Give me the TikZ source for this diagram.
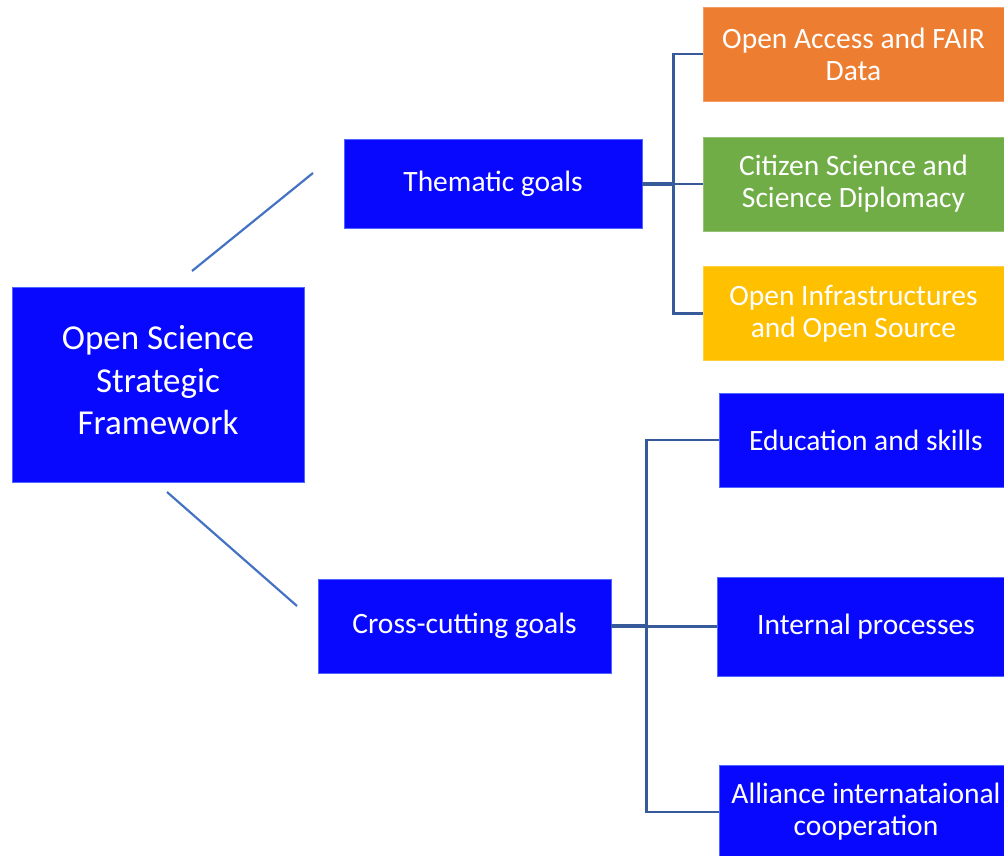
\documentclass[tikz,border=0pt]{standalone}
\usepackage{fontspec}
\setmainfont{Carlito}
\definecolor{goalblue}{RGB}{8,8,255}
\definecolor{edgeblue}{RGB}{80,100,255}
\definecolor{oaorange}{RGB}{237,125,49}
\definecolor{csgreen}{RGB}{112,173,71}
\definecolor{oiyellow}{RGB}{255,192,0}
\definecolor{linkblue}{RGB}{68,114,196}
\definecolor{treeblue}{RGB}{55,90,155}
\begin{document}
\begin{tikzpicture}[x=1pt,y=-1pt,
  goal/.style={draw=edgeblue,line width=0.6pt,fill=goalblue,text=white,align=center,inner sep=0pt,font=\fontsize{29.5}{32}\selectfont},
  link/.style={linkblue,line width=2.2pt},
  tree/.style={treeblue,line width=2.6pt},
  trunk/.style={treeblue,line width=3.5pt}]
\useasboundingbox (0,0) rectangle (1004,856);
% framework and the two goal groups
\node[goal,minimum width=292,minimum height=195,label={[text=white,align=center,inner sep=0pt,font=\fontsize{35}{42.5}\selectfont,yshift=4pt]center:Open Science\\Strategic\\Framework}] (osf) at (158,384.5) {};
\node[goal,minimum width=298,minimum height=89] (them) at (493,184) {Thematic goals};
\node[goal,minimum width=293,minimum height=94] (cross) at (464.5,626) {Cross-cutting goals};
% thematic goals
\node[goal,fill=oaorange,draw=oaorange!75!white,minimum width=301,minimum height=94] (oa) at (853.5,54) {Open Access and FAIR\\Data};
\node[goal,fill=csgreen,draw=csgreen!75!white,minimum width=301,minimum height=94] (cs) at (853.5,184) {Citizen Science and\\Science Diplomacy};
\node[goal,fill=oiyellow,draw=oiyellow!75!white,minimum width=301,minimum height=94] (oi) at (853.5,313.5) {Open Infrastructures\\and Open Source};
% cross-cutting goals
\node[goal,minimum width=294,minimum height=94] (es) at (866,440) {Education and skills};
\node[goal,minimum width=298,minimum height=99] (ip) at (866,626.5) {Internal processes};
\node[goal,minimum width=294,minimum height=94] (ac) at (866,812) {Alliance internataional\\cooperation};
% links
\coordinate (t1) at (192,271);
\coordinate (t2) at (313,173);
\coordinate (c1) at (167,492);
\coordinate (c2) at (297,606);
\draw[link] (t1) -- (t2);
\draw[link] (c1) -- (c2);
\draw[tree] (oa.west) -- ++(-29,0) |- (oi.west);
\draw[tree] (oa.west) -- ++(-29,0) |- (cs.west);
\draw[trunk] (them.east) -- ++(32,0);
\draw[tree] (es.west) -- ++(-72,0) |- (ac.west);
\draw[tree] (es.west) -- ++(-72,0) |- (ip.west);
\draw[trunk] (cross.east) -- ++(36,0);
\end{tikzpicture}
\end{document}
